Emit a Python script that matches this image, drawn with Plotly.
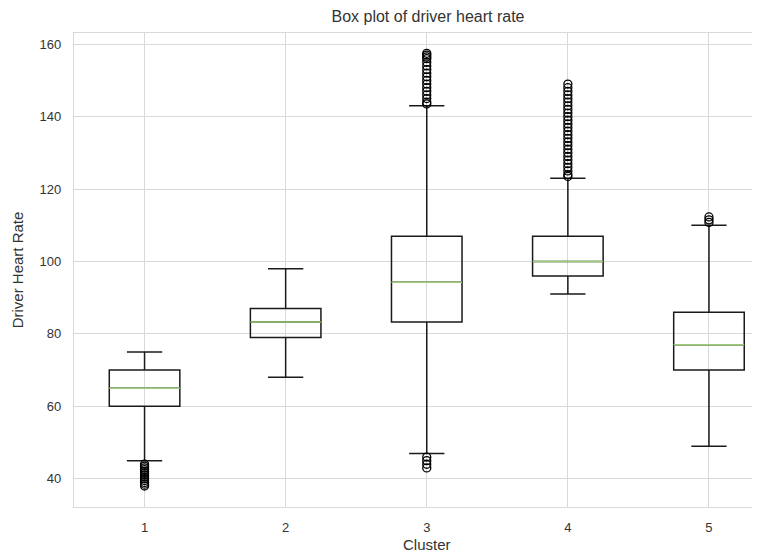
import plotly.graph_objects as go

clusters = [1, 2, 3, 4, 5]
lower_whisker = [45, 68, 47, 91, 49]
q1 = [60, 79, 83.3, 96, 70]
median = [65, 83.3, 94.3, 100, 77]
q3 = [70, 87, 107, 107, 86]
upper_whisker = [75, 98, 143, 123, 110]

outliers = {
    1: [44, 43.5, 43, 42.5, 42, 41.5, 41, 40.5, 40, 39.5, 39, 38.5, 38],
    2: [],
    3: [143.5, 144, 145, 146, 147, 148, 149, 150, 151, 152, 153, 154, 155,
        156, 156.5, 157, 157.5, 46, 45, 44, 43],
    4: [123.5, 124, 125, 126, 127, 128, 129, 130, 131, 132, 133, 134, 135,
        136, 137, 138, 139, 140, 141, 142, 143, 144, 145, 146, 147, 148, 149],
    5: [110.8, 111.5, 112.3],
}

title = "Box plot of driver heart rate"
x_title = "Cluster"
y_title = "Driver Heart Rate"
y_ticks = [40, 60, 80, 100, 120, 140, 160]

BOX_W = 0.5
font_family = "Liberation Sans, Arial, sans-serif"
text_color = "#333333"
grid_color = "#d9d9d9"

# page body has an 8px margin; figure is sized/offset to compensate
W, H = 759, 545
X_RANGE = [0.5, 5.305]  # right part of the axes is cropped off in the reference

fig = go.Figure()

for i, c in enumerate(clusters):
    fig.add_trace(go.Box(
        x=[c], q1=[q1[i]], median=[median[i]], q3=[q3[i]],
        lowerfence=[lower_whisker[i]], upperfence=[upper_whisker[i]],
        width=BOX_W, whiskerwidth=0.5,
        line=dict(color="#1a1a1a", width=1.5),
        fillcolor="rgba(255,255,255,0)",
        boxpoints=False, showlegend=False, hoverinfo="skip",
    ))

# green median lines
mx, my = [], []
for i, c in enumerate(clusters):
    mx += [c - BOX_W / 2, c + BOX_W / 2, None]
    my += [median[i], median[i], None]
fig.add_trace(go.Scatter(x=mx, y=my, mode="lines",
                         line=dict(color="#9ccc78", width=1.5),
                         showlegend=False, hoverinfo="skip"))

# outliers
ox, oy = [], []
for c in clusters:
    for v in outliers[c]:
        ox.append(c)
        oy.append(v)
fig.add_trace(go.Scatter(x=ox, y=oy, mode="markers",
                         marker=dict(symbol="circle-open", size=8,
                                     color="#000000", line=dict(width=1.3)),
                         showlegend=False, hoverinfo="skip"))

# centre of the full axes span (0.5..5.5), as a fraction of the visible plot area
centre_frac = (3.0 - X_RANGE[0]) / (X_RANGE[1] - X_RANGE[0])

fig.update_layout(
    width=W, height=H,
    margin=dict(l=66, r=15, t=25, b=46, pad=0),
    paper_bgcolor="white", plot_bgcolor="white",
    font=dict(family=font_family, color=text_color, size=13),
    title=dict(text=title, x=420 / W, xanchor="center",
               y=1 - 8 / H, yanchor="middle", automargin=False,
               font=dict(size=16, color=text_color)),
    annotations=[dict(text=x_title, xref="paper", yref="paper",
                      x=centre_frac, y=0, yshift=-37, xanchor="center",
                      yanchor="middle", showarrow=False,
                      font=dict(size=15, color=text_color))],
)
fig.update_xaxes(
    range=X_RANGE, tickvals=clusters, ticktext=[str(c) for c in clusters],
    showgrid=True, gridcolor=grid_color, gridwidth=1,
    showline=True, linecolor=grid_color, linewidth=1.2, mirror=True,
    zeroline=False, ticks="", ticklabelstandoff=8, automargin=False,
    tickfont=dict(size=13),
)
fig.update_yaxes(
    range=[32.2, 163.1], tickvals=y_ticks,
    showgrid=True, gridcolor=grid_color, gridwidth=1,
    showline=True, linecolor=grid_color, linewidth=1.2, mirror=False,
    zeroline=False, ticks="", ticklabelstandoff=9, automargin=False,
    title=dict(text=y_title, standoff=12, font=dict(size=15)),
    tickfont=dict(size=13),
)

fig.write_html("out.html")
